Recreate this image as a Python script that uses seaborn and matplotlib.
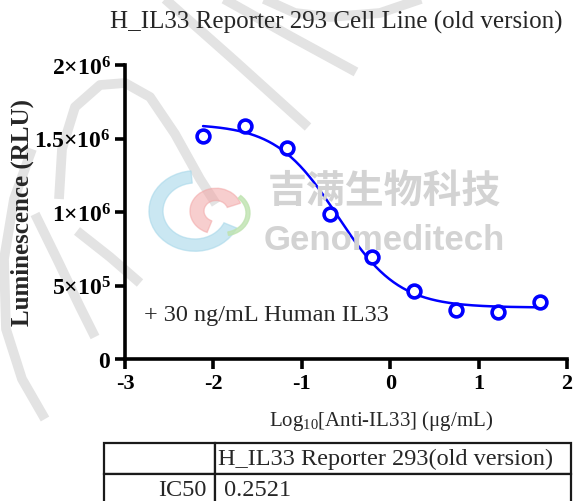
import numpy as np
import pandas as pd
import matplotlib
matplotlib.use("Agg")
import matplotlib.pyplot as plt
from matplotlib.patches import Wedge
import seaborn as sns

# =====================================================
# Data
# =====================================================

log_conc = [-2.117, -1.640, -1.163, -0.686, -0.209, 0.268, 0.745, 1.222, 1.699]
rlu = [1.517e6, 1.585e6, 1.435e6, 0.986e6, 0.694e6, 0.463e6, 0.333e6, 0.320e6, 0.388e6]

# 4PL fit parameters
fit_top = 1.60e6
fit_bottom = 0.35e6
fit_log_ic50 = np.log10(0.2521)
fit_hill = 1.25

y_ticks = [0, 5e5, 1e6, 1.5e6, 2e6]
y_tick_labels = [r"$\mathbf{0}$", r"$\mathbf{5{\times}10^{5}}$", r"$\mathbf{1{\times}10^{6}}$",
                 r"$\mathbf{1.5{\times}10^{6}}$", r"$\mathbf{2{\times}10^{6}}$"]
x_ticks = [-3, -2, -1, 0, 1, 2]

table_header = ["", "H_IL33 Reporter 293(old version)"]
table_row = ["IC50", " 0.2521"]

# =====================================================
# Setup
# =====================================================

sns.set_theme(style="ticks")
plt.rcParams["font.family"] = ["Liberation Serif", "DejaVu Serif"]
plt.rcParams["mathtext.fontset"] = "custom"
plt.rcParams["mathtext.rm"] = "Liberation Serif"
plt.rcParams["mathtext.bf"] = "Liberation Serif:bold"
plt.rcParams["mathtext.it"] = "Liberation Serif:italic"

df = pd.DataFrame({"x": log_conc, "y": rlu})

xs = np.linspace(min(log_conc), max(log_conc), 300)
curve = pd.DataFrame({
    "x": xs,
    "y": fit_bottom + (fit_top - fit_bottom) / (1 + 10 ** ((xs - fit_log_ic50) * fit_hill)),
})

W, H = 574, 502
fig = plt.figure(figsize=(W / 100, H / 100), dpi=100)
ax = fig.add_axes([125 / W, 1 - 360 / H, 442 / W, 294 / H])


def px(points):
    # pixel coords (from top-left) -> figure fraction
    pts = np.array(points, dtype=float)
    return pts[:, 0] / W, 1 - pts[:, 1] / H


# =====================================================
# Watermark
# =====================================================

grey = "#e3e3e3"
strokes = [
    [(165, 0), (235, 62), (308, 128)],
    [(224, 0), (290, 37), (356, 73)],
    [(264, 0), (295, 14), (330, 18), (380, 14), (421, 0)],
    [(59, 200), (62, 150), (75, 108), (100, 86), (125, 84), (150, 98), (175, 135),
     (200, 180), (216, 205)],
    [(35, 215), (58, 262), (80, 308), (95, 338)],
    [(77, 232), (110, 258), (140, 284)],
    [(32, 150), (14, 200), (4, 260), (6, 330), (22, 380), (45, 420)],
]
for s in strokes:
    sx, sy = px(s)
    fig.add_artist(plt.Line2D(sx, sy, color=grey, lw=7, solid_capstyle="butt",
                              solid_joinstyle="round", transform=fig.transFigure, zorder=0))

fig.add_artist(Wedge((195 / W, 1 - 212 / H), 46 / W, 95, 335, width=14 / W,
                     color="#a8d8ea", alpha=0.6, transform=fig.transFigure, zorder=1))
fig.add_artist(Wedge((216 / W, 1 - 212 / H), 26 / W, 20, 250, width=14 / W,
                     color="#f2a6a6", alpha=0.55, transform=fig.transFigure, zorder=1))
fig.add_artist(Wedge((224 / W, 1 - 214 / H), 26 / W, 280, 50, width=4 / W,
                     color="#bfe3b0", alpha=0.8, transform=fig.transFigure, zorder=1))

fig.text(268 / W, 1 - 191 / H, "吉满生物科技", family=["Noto Sans CJK SC"], weight="bold",
         fontsize=28, color="#d3d3d3", va="center", ha="left", zorder=1)
fig.text(264 / W, 1 - 241 / H, "Genomeditech", family=["Liberation Sans"], weight="bold",
         fontsize=25, color="#d3d3d3", va="center", ha="left", zorder=1)

ax.patch.set_alpha(0)

# =====================================================
# Dose-response plot
# =====================================================

sns.lineplot(data=curve, x="x", y="y", color="#0000ff", lw=1.8, ax=ax, zorder=3)
sns.scatterplot(data=df, x="x", y="y", ax=ax, s=85, marker="o",
                facecolor="white", edgecolor="#0000ff", linewidth=2.6, zorder=4)

ax.set_xlim(-3, 2)
ax.set_ylim(0, 2e6)
ax.set_xticks(x_ticks)
ax.set_xticklabels([str(t) for t in x_ticks], fontweight="bold", fontsize=16)
ax.set_yticks(y_ticks)
ax.set_yticklabels(y_tick_labels, fontsize=17)

for side in ["top", "right"]:
    ax.spines[side].set_visible(False)
for side in ["left", "bottom"]:
    ax.spines[side].set_linewidth(2.6)
    ax.spines[side].set_color("black")
ax.tick_params(axis="both", direction="out", length=7, width=2.6, colors="black", pad=3)

ax.set_xlabel("")
ax.set_ylabel("Luminescence (RLU)", fontsize=18, fontweight="bold", labelpad=0)
fig.text(381 / W, 1 - 421 / H, r"Log$_{10}$[Anti-IL33] (μg/mL)", fontsize=15,
         ha="center", va="center")
fig.text(563 / W, 1 - 22 / H, "H_IL33 Reporter 293 Cell Line (old version)",
         fontsize=18, ha="right", va="center")

ax.text(-2.79, 0.30e6, "+ 30 ng/mL Human IL33", fontsize=17.5, va="center", ha="left")

# =====================================================
# Results table
# =====================================================

tab = fig.add_axes([104 / W, -4 / H, 467 / W, 62 / H])
tab.axis("off")
table = tab.table(cellText=[table_header, table_row], colWidths=[111 / 467, 356 / 467],
                  cellLoc="left", loc="upper left", bbox=[0, 0, 1, 1])
table.auto_set_font_size(False)
for (r, c), cell in table.get_celld().items():
    cell.set_linewidth(1.6)
    if c == 0:
        cell.set_text_props(fontsize=17.5, ha="right")
        cell.PAD = 0.08
    else:
        cell.set_text_props(fontsize=17.5, ha="left")
        cell.PAD = 0.008

fig.savefig("out.png", dpi=100)
